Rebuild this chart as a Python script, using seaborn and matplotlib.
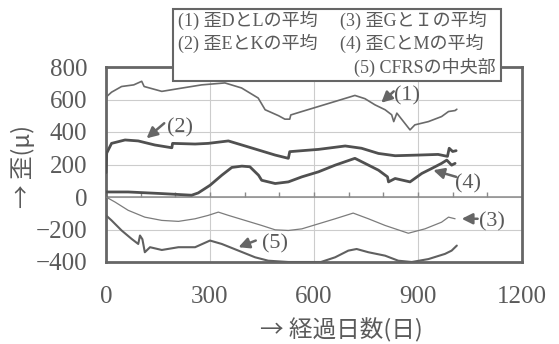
import numpy as np
import pandas as pd
import matplotlib
matplotlib.use("Agg")
import matplotlib.pyplot as plt
import seaborn as sns
from matplotlib.patches import Rectangle
from matplotlib.ticker import MultipleLocator

# values (days, strain in micro)
d1 = [0, 3, 16, 45, 80, 103, 110, 161, 218, 276, 343, 391, 439, 459, 498, 516, 530, 533,
      565, 613, 661, 718, 747, 776, 805, 824, 830, 839, 877, 891, 930, 968, 988, 1007, 1012]
v1 = [590, 620, 645, 680, 690, 712, 680, 650, 670, 690, 702, 671, 609, 537, 500, 479, 479, 505,
      526, 557, 588, 625, 605, 567, 537, 506, 464, 516, 413, 444, 464, 495, 526, 532, 540]

d2 = [0, 2, 16, 55, 93, 141, 190, 192, 257, 295, 353, 392, 440, 488, 526, 530, 565, 613,
      690, 737, 786, 834, 900, 958, 985, 990, 1000, 1010]
v2 = [150, 270, 330, 351, 345, 320, 303, 330, 326, 330, 345, 320, 289, 258, 238, 279, 285, 293,
      314, 300, 268, 254, 258, 262, 250, 300, 280, 285]

d3 = [0, 26, 64, 112, 161, 209, 257, 295, 324, 353, 401, 449, 488, 526, 565, 613, 661, 713,
      757, 805, 872, 920, 968, 988, 1007]
v3 = [0, -31, -82, -124, -144, -150, -134, -113, -93, -113, -144, -175, -202, -206, -196, -165,
      -134, -99, -134, -175, -223, -196, -155, -124, -134]

d4 = [0, 64, 161, 247, 266, 300, 334, 363, 392, 415, 440, 449, 488, 526, 565, 613, 661, 718,
      747, 786, 812, 815, 834, 877, 911, 940, 968, 983, 997, 1007]
v4 = [31, 31, 21, 11, 25, 72, 134, 182, 190, 186, 134, 103, 83, 93, 124, 155, 196, 238,
      207, 165, 124, 93, 114, 93, 145, 176, 207, 227, 196, 207]

d5 = [0, 16, 45, 74, 93, 98, 105, 112, 127, 161, 209, 257, 300, 334, 382, 430, 468, 526,
      620, 661, 699, 723, 757, 805, 843, 882, 930, 978, 997, 1012]
v5 = [-113, -144, -206, -258, -289, -237, -260, -340, -309, -326, -309, -309, -268, -289, -330,
      -371, -392, -400, -400, -371, -330, -320, -340, -361, -392, -400, -382, -350, -330, -299]

series = [
    ("(1)", d1, v1, "#6a6a6a", 1.2),
    ("(2)", d2, v2, "#505050", 2.0),
    ("(3)", d3, v3, "#7c7c7c", 0.9),
    ("(4)", d4, v4, "#505050", 2.0),
    ("(5)", d5, v5, "#606060", 1.5),
]

legend_col1 = ["(1) 歪DとLの平均", "(2) 歪EとKの平均"]
legend_col2 = ["(3) 歪GとＩの平均", "(4) 歪CとMの平均"]
legend_last = "(5) CFRSの中央部"

# label: arrow tip, arrow tail, text position
labels = {
    "(1)": ((794, 580), (830, 650), (868, 622)),
    "(2)": ((117, 361), (168, 454), (213, 423)),
    "(3)": ((1026, -134), (1072, -134), (1113, -150)),
    "(4)": ((944, 165), (1010, 124), (1045, 83)),
    "(5)": ((382, -309), (432, -268), (488, -288)),
}

sns.set_style("white")
fam = ["Liberation Serif", "Noto Sans CJK JP", "DejaVu Sans"]
plt.rcParams["font.family"] = fam
grey = "#5a5a5a"

W, H = 559, 344
fig = plt.figure(figsize=(W / 100, H / 100), dpi=100)
ax = fig.add_axes([106 / W, 1 - 262 / H, 416 / W, 195 / H])

for name, d, v, c, lw in series:
    sns.lineplot(x=d, y=v, ax=ax, color=c, lw=lw, estimator=None, sort=False, zorder=3)

ax.set_xlim(0, 1200)
ax.set_ylim(-400, 800)
ax.set_xticks(np.arange(0, 1201, 300))
ax.set_yticks(np.arange(-400, 801, 200))
ax.yaxis.set_minor_locator(MultipleLocator(100))
ax.grid(True, color="#cccccc", lw=0.8)
ax.axhline(0, color="#8a8a8a", lw=1.1, zorder=2)
ax.vlines(np.arange(100, 1200, 100), 0, 30, color="#8a8a8a", lw=1.0, zorder=2)

for s in ax.spines.values():
    s.set_color("#666666")
    s.set_linewidth(2)

ax.tick_params(axis="x", length=0, pad=17.5, labelsize=18, labelcolor=grey)
ax.tick_params(axis="y", which="both", direction="in", length=5, width=1.2,
               color="#666666", pad=13.5, labelsize=18, labelcolor=grey)
ax.set_xlabel("")
ax.set_ylabel("")

for name, (tip, tail, txt) in labels.items():
    ax.annotate("", xy=tip, xytext=tail, zorder=4,
                arrowprops=dict(arrowstyle="-|>", color="#666666", lw=1.8,
                                mutation_scale=16, shrinkA=0, shrinkB=0))
    ax.text(txt[0], txt[1], name, ha="center", va="center", fontsize=16,
            color=grey, zorder=4)

cjk = ["Noto Sans CJK JP", "DejaVu Sans"]
fig.text(341 / W, 1 - 330 / H, "→ 経過日数(日)", ha="center", va="center",
         fontsize=17, color=grey, family=cjk)
fig.text(23 / W, 1 - 166 / H, "→ 歪(μ)", ha="center", va="center", rotation=90,
         fontsize=17, color=grey, family=cjk)

# legend-like text box on top
fig.add_artist(Rectangle((173 / W, 1 - 81 / H), 328 / W, 72 / H, transform=fig.transFigure,
                         facecolor="white", edgecolor="#666666", lw=1.5, zorder=5))
for i, (a, b) in enumerate(zip(legend_col1, legend_col2)):
    y = 1 - (20 + 23.5 * i) / H
    fig.text(178 / W, y, a, ha="left", va="center", fontsize=13, color=grey, zorder=6)
    fig.text(340 / W, y, b, ha="left", va="center", fontsize=13, color=grey, zorder=6)
fig.text(496 / W, 1 - 67 / H, legend_last, ha="right", va="center", fontsize=13,
         color=grey, zorder=6)

fig.savefig("out.png", dpi=100)
